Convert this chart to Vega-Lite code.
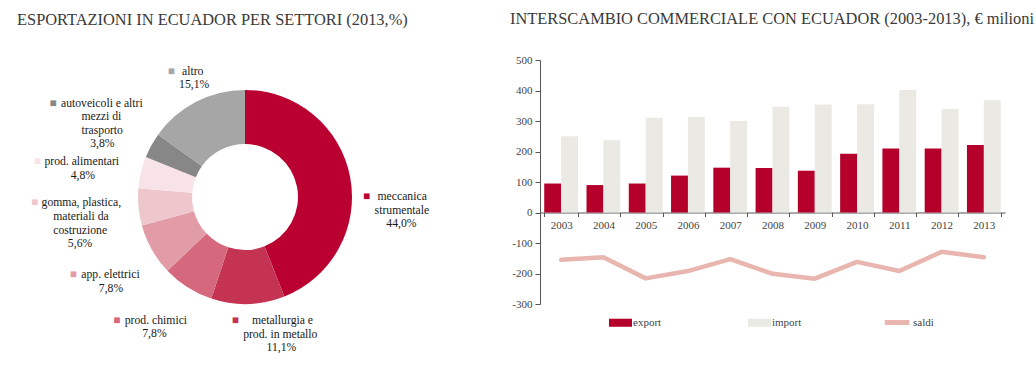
{
  "$schema": "https://vega.github.io/schema/vega-lite/v6.json",
  "background": "white",
  "padding": {"left": 0, "top": 10, "right": 0, "bottom": 0},
  "bounds": "flush",
  "spacing": 50,
  "config": {
    "view": {"stroke": null},
    "font": "Liberation Serif",
    "title": {"font": "Liberation Serif", "fontSize": 16.4, "fontWeight": "normal", "color": "#3a3a3a", "anchor": "start", "frame": "group"},
    "axis": {"labelFont": "Liberation Serif", "labelFontSize": 11, "labelColor": "#444444", "domainColor": "#555555", "tickColor": "#555555", "grid": false, "labelOverlap": false},
    "legend": {"labelFont": "Liberation Serif", "labelFontSize": 11, "labelColor": "#444444", "padding": 0}
  },
  "resolve": {"scale": {"fill": "independent", "stroke": "independent"}, "legend": {"fill": "independent", "stroke": "independent"}},
  "hconcat": [
    {
      "title": {"text": "ESPORTAZIONI IN ECUADOR PER SETTORI (2013,%)", "dx": 17, "offset": 8.4},
      "width": 490,
      "height": 274,
      "data": {"values": [
        {"settore": "meccanica strumentale", "pct": 44.0, "ord": 1, "label": "\u200b\u00a0meccanica\nstrumentale\n\u200b\u00a0\u00a0\u00a0\u00a044,0%"},
        {"settore": "metallurgia e prod. in metallo", "pct": 11.1, "ord": 2, "label": "\u200b\u00a0\u00a0\u00a0metallurgia e\nprod. in metallo\n\u200b\u00a0\u00a0\u00a0\u00a0\u00a0\u00a0\u00a0\u00a011,1%"},
        {"settore": "prod. chimici", "pct": 7.8, "ord": 3, "label": "prod. chimici\n\u200b\u00a0\u00a0\u00a0\u00a0\u00a0\u00a07,8%"},
        {"settore": "app. elettrici", "pct": 7.8, "ord": 4, "label": "app. elettrici\n\u200b\u00a0\u00a0\u00a0\u00a0\u00a0\u00a07,8%"},
        {"settore": "gomma, plastica, materiali da costruzione", "pct": 5.6, "ord": 5, "label": "gomma, plastica,\n\u200b\u00a0\u00a0\u00a0\u00a0materiali da\n\u200b\u00a0\u00a0\u00a0\u00a0costruzione\n\u200b\u00a0\u00a0\u00a0\u00a0\u00a0\u00a0\u00a0\u00a0\u00a05,6%"},
        {"settore": "prod. alimentari", "pct": 4.8, "ord": 6, "label": "prod. alimentari\n\u200b\u00a0\u00a0\u00a0\u00a0\u00a0\u00a0\u00a0\u00a0\u00a04,8%"},
        {"settore": "autoveicoli e altri mezzi di trasporto", "pct": 3.8, "ord": 7, "label": "autoveicoli e altri\n\u200b\u00a0\u00a0\u00a0\u00a0\u00a0\u00a0\u00a0mezzi di\n\u200b\u00a0\u00a0\u00a0\u00a0\u00a0\u00a0\u00a0trasporto\n\u200b\u00a0\u00a0\u00a0\u00a0\u00a0\u00a0\u00a0\u00a0\u00a0\u00a03,8%"},
        {"settore": "altro", "pct": 15.1, "ord": 8, "label": "\u200b\u00a0altro\n15,1%"}
      ]},
      "encoding": {
        "theta": {"field": "pct", "type": "quantitative", "stack": true},
        "order": {"field": "ord", "type": "quantitative"}
      },
      "layer": [
        {
          "mark": {"type": "arc", "innerRadius": 53, "outerRadius": 107},
          "encoding": {
            "fill": {"field": "settore", "type": "nominal", "legend": null,
              "scale": {
                "domain": ["meccanica strumentale", "metallurgia e prod. in metallo", "prod. chimici", "app. elettrici", "gomma, plastica, materiali da costruzione", "prod. alimentari", "autoveicoli e altri mezzi di trasporto", "altro"],
                "range": ["#BA0030", "#C43352", "#D5687C", "#E29CA8", "#EEC7CD", "#F8E4E8", "#878787", "#A6A6A6"]
              }
            }
          }
        },
        {
          "mark": {"type": "text", "radius": 135, "align": "right", "baseline": "top", "dx": -7.5, "dy": 19.5, "fontSize": 11.7, "font": "Liberation Serif"},
          "encoding": {
            "fill": {"field": "settore", "type": "nominal", "legend": null},
            "text": {"condition": {"test": "datum.settore === 'meccanica strumentale'", "value": "■"}, "value": ""}
          }
        },
        {
          "mark": {"type": "text", "radius": 135, "align": "left", "baseline": "top", "dx": -3, "dy": 19.5, "fontSize": 11.7, "font": "Liberation Serif", "lineBreak": "\n", "lineHeight": 13.6, "fill": "#1a1a1a"},
          "encoding": {
            "detail": {"field": "settore", "type": "nominal"},
            "text": {"condition": {"test": "datum.settore === 'meccanica strumentale'", "field": "label"}, "value": ""}
          }
        },
        {
          "mark": {"type": "text", "radius": 132, "align": "right", "baseline": "top", "dx": -10, "dy": -13.8, "fontSize": 11.7, "font": "Liberation Serif"},
          "encoding": {
            "fill": {"field": "settore", "type": "nominal", "legend": null},
            "text": {"condition": {"test": "datum.settore === 'metallurgia e prod. in metallo' || datum.settore === 'altro'", "value": "■"}, "value": ""}
          }
        },
        {
          "mark": {"type": "text", "radius": 132, "align": "left", "baseline": "top", "dx": -5.6, "dy": -13.8, "fontSize": 11.7, "font": "Liberation Serif", "lineBreak": "\n", "lineHeight": 13.6, "fill": "#1a1a1a"},
          "encoding": {
            "detail": {"field": "settore", "type": "nominal"},
            "text": {"condition": {"test": "datum.settore === 'metallurgia e prod. in metallo' || datum.settore === 'altro'", "field": "label"}, "value": ""}
          }
        },
        {
          "mark": {"type": "text", "radius": 130, "align": "right", "baseline": "top", "dx": -55, "dy": 8, "fontSize": 11.7, "font": "Liberation Serif"},
          "encoding": {
            "fill": {"field": "settore", "type": "nominal", "legend": null},
            "text": {"condition": {"test": "datum.settore === 'prod. chimici' || datum.settore === 'app. elettrici'", "value": "■"}, "value": ""}
          }
        },
        {
          "mark": {"type": "text", "radius": 130, "align": "left", "baseline": "top", "dx": -50.6, "dy": 8, "fontSize": 11.7, "font": "Liberation Serif", "lineBreak": "\n", "lineHeight": 13.6, "fill": "#1a1a1a"},
          "encoding": {
            "detail": {"field": "settore", "type": "nominal"},
            "text": {"condition": {"test": "datum.settore === 'prod. chimici' || datum.settore === 'app. elettrici'", "field": "label"}, "value": ""}
          }
        },
        {
          "mark": {"type": "text", "radius": 127, "align": "right", "baseline": "top", "dx": -80.5, "dy": -11.5, "fontSize": 11.7, "font": "Liberation Serif"},
          "encoding": {
            "fill": {"field": "settore", "type": "nominal", "legend": null},
            "text": {"condition": {"test": "datum.settore === 'gomma, plastica, materiali da costruzione' || datum.settore === 'prod. alimentari'", "value": "■"}, "value": ""}
          }
        },
        {
          "mark": {"type": "text", "radius": 127, "align": "left", "baseline": "top", "dx": -77, "dy": -11.5, "fontSize": 11.7, "font": "Liberation Serif", "lineBreak": "\n", "lineHeight": 13.6, "fill": "#1a1a1a"},
          "encoding": {
            "detail": {"field": "settore", "type": "nominal"},
            "text": {"condition": {"test": "datum.settore === 'gomma, plastica, materiali da costruzione' || datum.settore === 'prod. alimentari'", "field": "label"}, "value": ""}
          }
        },
        {
          "mark": {"type": "text", "radius": 150, "align": "right", "baseline": "top", "dx": -57, "dy": -27.2, "fontSize": 11.7, "font": "Liberation Serif"},
          "encoding": {
            "fill": {"field": "settore", "type": "nominal", "legend": null},
            "text": {"condition": {"test": "datum.settore === 'autoveicoli e altri mezzi di trasporto'", "value": "■"}, "value": ""}
          }
        },
        {
          "mark": {"type": "text", "radius": 150, "align": "left", "baseline": "top", "dx": -52.6, "dy": -27.2, "fontSize": 11.7, "font": "Liberation Serif", "lineBreak": "\n", "lineHeight": 13.6, "fill": "#1a1a1a"},
          "encoding": {
            "detail": {"field": "settore", "type": "nominal"},
            "text": {"condition": {"test": "datum.settore === 'autoveicoli e altri mezzi di trasporto'", "field": "label"}, "value": ""}
          }
        }
      ]
    },
    {
      "title": {"text": "INTERSCAMBIO COMMERCIALE CON ECUADOR (2003-2013), € milioni", "dx": -30, "offset": 27},
      "width": 465,
      "height": 244,
      "layer": [
        {
          "data": {"values": [
            {"anno": "2003", "tipo": "export", "valore": 95}, {"anno": "2003", "tipo": "import", "valore": 250},
            {"anno": "2004", "tipo": "export", "valore": 90}, {"anno": "2004", "tipo": "import", "valore": 237},
            {"anno": "2005", "tipo": "export", "valore": 95}, {"anno": "2005", "tipo": "import", "valore": 311},
            {"anno": "2006", "tipo": "export", "valore": 121}, {"anno": "2006", "tipo": "import", "valore": 313},
            {"anno": "2007", "tipo": "export", "valore": 147}, {"anno": "2007", "tipo": "import", "valore": 300},
            {"anno": "2008", "tipo": "export", "valore": 146}, {"anno": "2008", "tipo": "import", "valore": 347},
            {"anno": "2009", "tipo": "export", "valore": 137}, {"anno": "2009", "tipo": "import", "valore": 354},
            {"anno": "2010", "tipo": "export", "valore": 193}, {"anno": "2010", "tipo": "import", "valore": 355},
            {"anno": "2011", "tipo": "export", "valore": 210}, {"anno": "2011", "tipo": "import", "valore": 402},
            {"anno": "2012", "tipo": "export", "valore": 210}, {"anno": "2012", "tipo": "import", "valore": 339},
            {"anno": "2013", "tipo": "export", "valore": 221}, {"anno": "2013", "tipo": "import", "valore": 368}
          ]},
          "mark": {"type": "bar"},
          "encoding": {
            "x": {"field": "anno", "type": "ordinal", "title": null,
              "scale": {"paddingInner": 0.2, "paddingOuter": 0.1},
              "axis": {"offset": -91.5, "tickBand": "extent", "labelAngle": 0, "tickSize": 4, "labelPadding": 3}},
            "xOffset": {"field": "tipo", "type": "nominal", "sort": ["export", "import"], "scale": {"paddingInner": 0}},
            "y": {"field": "valore", "type": "quantitative", "title": null,
              "scale": {"domain": [-300, 500], "nice": false},
              "axis": {"values": [-300, -200, -100, 0, 100, 200, 300, 400, 500], "labelExpr": "'' + datum.value", "tickSize": 5, "labelPadding": 3, "labelOverlap": false}},
            "fill": {"field": "tipo", "type": "nominal",
              "scale": {"domain": ["export", "import"], "range": ["#B5002B", "#EAE9E4"]},
              "legend": {"title": null, "orient": "none", "legendX": 69, "legendY": 251, "direction": "horizontal", "columnPadding": 86, "symbolType": "M-1,-0.35H1V0.35H-1Z", "symbolSize": 529, "symbolStrokeWidth": 0, "labelOffset": 1}}
          }
        },
        {
          "data": {"values": [
            {"anno": "2003", "saldo": -155}, {"anno": "2004", "saldo": -147}, {"anno": "2005", "saldo": -216},
            {"anno": "2006", "saldo": -192}, {"anno": "2007", "saldo": -153}, {"anno": "2008", "saldo": -201},
            {"anno": "2009", "saldo": -217}, {"anno": "2010", "saldo": -162}, {"anno": "2011", "saldo": -192},
            {"anno": "2012", "saldo": -129}, {"anno": "2013", "saldo": -147}
          ]},
          "mark": {"type": "line", "strokeWidth": 4.5, "strokeCap": "round", "strokeJoin": "round"},
          "encoding": {
            "x": {"field": "anno", "type": "ordinal", "title": null},
            "y": {"field": "saldo", "type": "quantitative", "title": null,
              "axis": {"values": [-300, -200, -100, 0, 100, 200, 300, 400, 500], "labelExpr": "'' + datum.value", "tickSize": 5, "labelPadding": 3, "labelOverlap": false}},
            "stroke": {"datum": "saldi", "type": "nominal",
              "scale": {"domain": ["saldi"], "range": ["#E8B6AF"]},
              "legend": {"title": null, "orient": "none", "legendX": 342, "legendY": 247.5, "symbolType": "stroke", "symbolSize": 600, "symbolStrokeWidth": 5, "labelOffset": 1}}
          }
        }
      ]
    }
  ]
}
